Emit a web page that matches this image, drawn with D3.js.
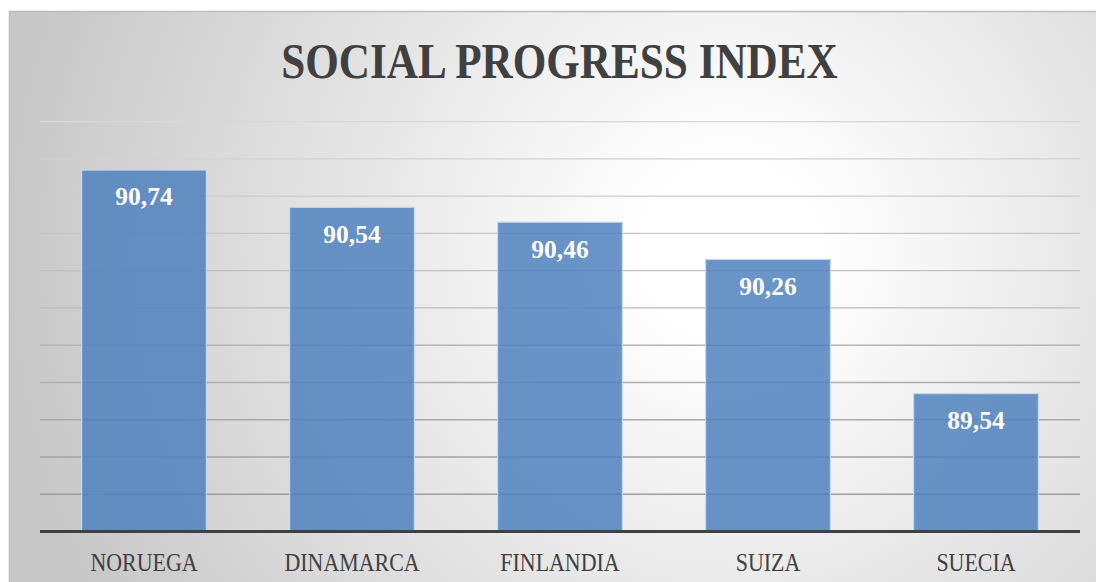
<!DOCTYPE html>
<html>
<head>
<meta charset="utf-8">
<script src="https://cdn.jsdelivr.net/npm/d3@7"></script>
<style>
  html, body { margin: 0; padding: 0; background: #fff; }
  svg { display: block; }
</style>
</head>
<body>
<svg id="chart" width="1096" height="582"></svg>
<script>
const categories = ["NORUEGA", "DINAMARCA", "FINLANDIA", "SUIZA", "SUECIA"];
const values = [90.74, 90.54, 90.46, 90.26, 89.54];
const valueLabels = ["90,74", "90,54", "90,46", "90,26", "89,54"];
const yDomain = [88.8, 91.0];
const gridStep = 0.2;
const chartTitle = "SOCIAL PROGRESS INDEX";

(function () {
const W = 1096, H = 582;
const svg = d3.select("#chart");
const defs = svg.append("defs");

const bg = defs.append("radialGradient").attr("id", "bg")
  .attr("gradientUnits", "userSpaceOnUse")
  .attr("cx", 730).attr("cy", 250).attr("r", 720);
bg.append("stop").attr("offset", "0").attr("stop-color", "#ffffff");
bg.append("stop").attr("offset", "0.12").attr("stop-color", "#ffffff");
bg.append("stop").attr("offset", "1").attr("stop-color", "#c8c8c8");

const gg = defs.append("linearGradient").attr("id", "grid")
  .attr("gradientUnits", "userSpaceOnUse")
  .attr("x1", 0).attr("y1", 120).attr("x2", 0).attr("y2", 500);
gg.append("stop").attr("offset", "0").attr("stop-color", "#d8d8d8");
gg.append("stop").attr("offset", "1").attr("stop-color", "#9c9c9c");

// chart area background
svg.append("rect").attr("x", 9).attr("y", 11).attr("width", W).attr("height", H)
  .attr("fill", "url(#bg)");
svg.append("path").attr("d", `M9.5,${H} V11.5 H${W}`)
  .attr("fill", "none").attr("stroke", "#bdbdbd").attr("stroke-width", 1.5);

const pLeft = 40, pRight = 1080, pTop = 121.6, pBottom = 531.5;
const x = d3.scaleBand().domain(categories).range([pLeft, pRight]).paddingInner(0.4).paddingOuter(0.2);
const y = d3.scaleLinear().domain(yDomain).range([pBottom, pTop]);

// gridlines
const ticks = d3.range(yDomain[0] + gridStep, yDomain[1] + gridStep / 2, gridStep);
svg.append("g").selectAll("line").data(ticks).join("line")
  .attr("x1", pLeft).attr("x2", pRight)
  .attr("y1", d => y(d)).attr("y2", d => y(d))
  .attr("stroke", "url(#grid)").attr("stroke-width", 1.4);

// bars
svg.append("g").selectAll("rect").data(values).join("rect")
  .attr("x", (d, i) => x(categories[i]))
  .attr("y", d => y(d))
  .attr("width", x.bandwidth())
  .attr("height", d => pBottom - y(d))
  .attr("fill", "#4f81bd").attr("fill-opacity", 0.85)
  .attr("stroke", "#c6d6ec").attr("stroke-width", 1.2);

// value labels
svg.append("g").selectAll("text").data(values).join("text")
  .attr("x", (d, i) => x(categories[i]) + x.bandwidth() / 2)
  .attr("y", d => y(d) + 35.3)
  .attr("text-anchor", "middle")
  .attr("font-family", "'Liberation Serif', 'DejaVu Serif', serif")
  .attr("font-weight", "bold").attr("font-size", 25.5)
  .attr("fill", "#ffffff")
  .text((d, i) => valueLabels[i]);

// baseline
svg.append("line").attr("x1", pLeft).attr("x2", pRight)
  .attr("y1", pBottom).attr("y2", pBottom)
  .attr("stroke", "#404040").attr("stroke-width", 3.2);

// category labels
svg.append("g").selectAll("text").data(categories).join("text")
  .attr("transform", d => `translate(${x(d) + x.bandwidth() / 2},571) scale(0.86,1)`)
  .attr("text-anchor", "middle")
  .attr("font-family", "'Liberation Serif', 'DejaVu Serif', serif")
  .attr("font-size", 25.5)
  .attr("fill", "#404040")
  .text(d => d);

// title
svg.append("text")
  .attr("transform", "translate(559.5,78) scale(0.855,1)")
  .attr("text-anchor", "middle")
  .attr("font-family", "'Liberation Serif', 'DejaVu Serif', serif")
  .attr("font-weight", "bold").attr("font-size", 50.5)
  .attr("fill", "#404040")
  .text(chartTitle);
})();
</script>
</body>
</html>
